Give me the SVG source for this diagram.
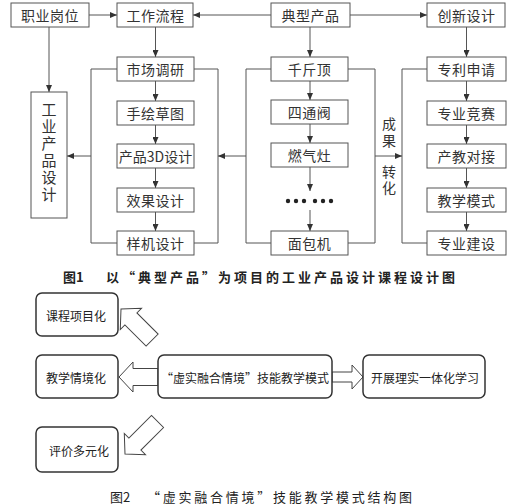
<svg xmlns="http://www.w3.org/2000/svg" width="511" height="504" viewBox="0 0 511 504">
<defs>
<style>
.box{fill:#fff;stroke:#555;stroke-width:1}
.ln{fill:none;stroke:#555;stroke-width:1}
.t{font-family:"Noto Sans CJK SC","Noto Sans",sans-serif;font-size:14px;fill:#333;text-anchor:middle;dominant-baseline:central;letter-spacing:0.5px}
.v{font-family:"Noto Sans CJK SC","Noto Sans",sans-serif;fill:#333;text-anchor:middle;writing-mode:vertical-rl}
.rb{fill:#fff;stroke:#333;stroke-width:1.5}
.ha{fill:#fff;stroke:#444;stroke-width:1}
.t2{font-family:"Noto Sans CJK SC","Noto Sans",sans-serif;font-size:12px;fill:#222;text-anchor:middle;dominant-baseline:central}
.cap{font-family:"Noto Sans CJK SC","Noto Sans",sans-serif;font-size:13px;fill:#222;dominant-baseline:central}
</style>
<marker id="ah" markerUnits="userSpaceOnUse" markerWidth="8" markerHeight="6" refX="7" refY="3" orient="auto">
<path d="M0,0 L7,3 L0,6 Z" fill="#333"/>
</marker>
</defs>
<rect width="511" height="504" fill="#fff"/>

<g id="connectors">
<line class="ln" x1="89" y1="15" x2="117" y2="15" marker-end="url(#ah)"/>
<line class="ln" x1="271" y1="15" x2="193" y2="15" marker-end="url(#ah)"/>
<line class="ln" x1="350" y1="15" x2="427" y2="15" marker-end="url(#ah)"/>
<line class="ln" x1="49" y1="27" x2="49" y2="92" marker-end="url(#ah)"/>
<line class="ln" x1="155.5" y1="27" x2="155.5" y2="57" marker-end="url(#ah)"/>
<line class="ln" x1="310" y1="27" x2="310" y2="57" marker-end="url(#ah)"/>
<line class="ln" x1="466.5" y1="27" x2="466.5" y2="57" marker-end="url(#ah)"/>
<line class="ln" x1="155.5" y1="81" x2="155.5" y2="101" marker-end="url(#ah)"/>
<line class="ln" x1="155.5" y1="125" x2="155.5" y2="144" marker-end="url(#ah)"/>
<line class="ln" x1="155.5" y1="168" x2="155.5" y2="188" marker-end="url(#ah)"/>
<line class="ln" x1="155.5" y1="212" x2="155.5" y2="231" marker-end="url(#ah)"/>
<line class="ln" x1="310" y1="81" x2="310" y2="100" marker-end="url(#ah)"/>
<line class="ln" x1="310" y1="124" x2="310" y2="143" marker-end="url(#ah)"/>
<line class="ln" x1="310" y1="167" x2="310" y2="191" marker-end="url(#ah)"/>
<line class="ln" x1="310" y1="210" x2="310" y2="231" marker-end="url(#ah)"/>
<line class="ln" x1="466.5" y1="81" x2="466.5" y2="101" marker-end="url(#ah)"/>
<line class="ln" x1="466.5" y1="125" x2="466.5" y2="144" marker-end="url(#ah)"/>
<line class="ln" x1="466.5" y1="168" x2="466.5" y2="188" marker-end="url(#ah)"/>
<line class="ln" x1="466.5" y1="212" x2="466.5" y2="231" marker-end="url(#ah)"/>
<polyline class="ln" points="117,69 91,69 91,243 117,243"/>
<polyline class="ln" points="194,69 218,69 218,243 194,243"/>
<polyline class="ln" points="271,69 246,69 246,243 271,243"/>
<polyline class="ln" points="348,69 375,69 375,243 348,243"/>
<polyline class="ln" points="427,69 402,69 402,243 427,243"/>
<line class="ln" x1="91" y1="156" x2="67" y2="156" marker-end="url(#ah)"/>
<line class="ln" x1="246" y1="156" x2="218" y2="156" marker-end="url(#ah)"/>
<line class="ln" x1="375" y1="156" x2="402" y2="156" marker-end="url(#ah)"/>
<path class="ha" transform="translate(121,309) rotate(45)" d="M0,0 L14,-15 L14,-8.5 L44,-8.5 L44,8.5 L14,8.5 L14,15 Z"/>
<path class="ha" transform="translate(119,377)" d="M0,0 L14,-15 L14,-8.5 L39,-8.5 L39,8.5 L14,8.5 L14,15 Z"/>
<path class="ha" transform="translate(125,454) rotate(-45)" d="M0,0 L14,-15 L14,-8.5 L46,-8.5 L46,8.5 L14,8.5 L14,15 Z"/>
<path class="ha" transform="translate(363,377)" d="M0,0 L-11,-12 L-11,-5 L-31,-5 L-31,5 L-11,5 L-11,12 Z"/>
</g>

<g id="n-zhiye"><rect class="box" x="11" y="3" width="78" height="24"/><text class="t" x="50" y="15">职业岗位</text></g>
<g id="n-gongzuo"><rect class="box" x="117" y="3" width="76" height="24"/><text class="t" x="155.5" y="15">工作流程</text></g>
<g id="n-dianxing"><rect class="box" x="271" y="3" width="79" height="24"/><text class="t" x="310.5" y="15">典型产品</text></g>
<g id="n-chuangxin"><rect class="box" x="427" y="3" width="78" height="24"/><text class="t" x="466.5" y="15">创新设计</text></g>

<g id="n-gongye"><rect class="box" x="31" y="92" width="36" height="126"/>
<text class="v" x="49" y="153" style="font-size:15px;letter-spacing:2px">工业产品设计</text>
</g>

<g id="n-shichang"><rect class="box" x="117" y="57" width="77" height="24"/><text class="t" x="155.5" y="69">市场调研</text></g>
<g id="n-shouhui"><rect class="box" x="117" y="101" width="77" height="24"/><text class="t" x="155.5" y="113">手绘草图</text></g>
<g id="n-3d"><rect class="box" x="117" y="144" width="77" height="24"/><text class="t" x="155.5" y="156" style="letter-spacing:0">产品3D设计</text></g>
<g id="n-xiaoguo"><rect class="box" x="117" y="188" width="77" height="24"/><text class="t" x="155.5" y="200">效果设计</text></g>
<g id="n-yangji"><rect class="box" x="117" y="231" width="77" height="24"/><text class="t" x="155.5" y="243">样机设计</text></g>

<g id="n-qianjin"><rect class="box" x="271" y="57" width="77" height="24"/><text class="t" x="309.5" y="69">千斤顶</text></g>
<g id="n-sitong"><rect class="box" x="271" y="100" width="77" height="24"/><text class="t" x="309.5" y="112">四通阀</text></g>
<g id="n-ranqi"><rect class="box" x="271" y="143" width="77" height="24"/><text class="t" x="309.5" y="155">燃气灶</text></g>
<g id="n-dots" fill="#222">
<circle cx="288" cy="201" r="2.2"/><circle cx="296" cy="201" r="2.2"/><circle cx="304" cy="201" r="2.2"/>
<circle cx="315" cy="201" r="2.2"/><circle cx="323" cy="201" r="2.2"/><circle cx="331" cy="201" r="2.2"/>
</g>
<g id="n-mianbao"><rect class="box" x="271" y="231" width="77" height="24"/><text class="t" x="309.5" y="243">面包机</text></g>

<g id="n-zhuanli"><rect class="box" x="427" y="57" width="79" height="24"/><text class="t" x="466.5" y="69">专利申请</text></g>
<g id="n-jingsai"><rect class="box" x="427" y="101" width="79" height="24"/><text class="t" x="466.5" y="113">专业竞赛</text></g>
<g id="n-chanjiao"><rect class="box" x="427" y="144" width="79" height="24"/><text class="t" x="466.5" y="156">产教对接</text></g>
<g id="n-moshi"><rect class="box" x="427" y="188" width="79" height="24"/><text class="t" x="466.5" y="200">教学模式</text></g>
<g id="n-jianshe"><rect class="box" x="427" y="231" width="79" height="24"/><text class="t" x="466.5" y="243">专业建设</text></g>

<g id="label-chengguo">
<text class="v" x="389" y="134" style="font-size:14px;letter-spacing:3px">成果</text>
<text class="v" x="389" y="181" style="font-size:14px;letter-spacing:2px">转化</text>
</g>

<g id="caption1">
<text class="cap" x="63" y="276" font-weight="bold">图1</text>
<text class="cap" x="106" y="276" font-weight="bold" textLength="349" lengthAdjust="spacing">以“典型产品”为项目的工业产品设计课程设计图</text>
</g>

<g id="n-kecheng"><rect class="rb" x="36" y="293" width="82" height="43" rx="6"/><text class="t2" x="76" y="315">课程项目化</text></g>
<g id="n-qingjing"><rect class="rb" x="36" y="355" width="82" height="43" rx="6"/><text class="t2" x="76" y="377">教学情境化</text></g>
<g id="n-center"><rect class="rb" x="158" y="355" width="174" height="43" rx="6"/><text class="t2" x="245" y="377">“虚实融合情境”技能教学模式</text></g>
<g id="n-kaizhan"><rect class="rb" x="363" y="355" width="122" height="43" rx="6"/><text class="t2" x="425" y="377">开展理实一体化学习</text></g>
<g id="n-pingjia"><rect class="rb" x="36" y="427" width="82" height="45" rx="6"/><text class="t2" x="79" y="450">评价多元化</text></g>

<g id="caption2">
<text class="cap" x="110" y="496">图2</text>
<text class="cap" x="147" y="496" textLength="265" lengthAdjust="spacing">“虚实融合情境”技能教学模式结构图</text>
</g>
</svg>
